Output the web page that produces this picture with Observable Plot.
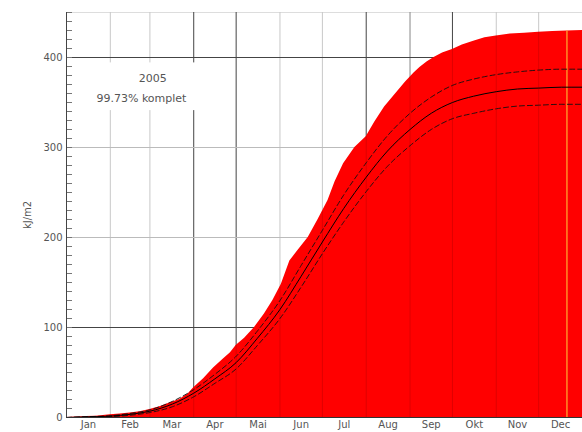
<!DOCTYPE html>
<html>
<head>
<meta charset="utf-8">
<script src="https://cdn.jsdelivr.net/npm/d3@7"></script>
<script src="https://cdn.jsdelivr.net/npm/@observablehq/plot@0.6"></script>
<style>
  html, body { margin: 0; padding: 0; background: white; }
  svg { display: block; }
</style>
</head>
<body>
<div id="chart"></div>
<script>
// ---- data ----
const monthNames = ["Jan","Feb","Mar","Apr","Mai","Jun","Jul","Aug","Sep","Okt","Nov","Dec"];
const monthStarts = [0,31,59,90,120,151,181,212,243,273,304,334,365];
const darkGridDays = [90,120,212,273];
const mediumGridDays = [243];
const lightGridDays = [31,59,151,181,304,334];
const darkGridY = [100,400];
const lightGridY = [200,300];
const yTickLabels = [0,100,200,300,400];
const yMinorTicks = d3.range(0, 451, 10);

// observed 2005 cumulative radiation (red area)
const obsDays = [0,7,14,21,31,38,45,52,59,66,73,80,86,90,97,104,111,116,120,126,133,140,146,152,158,164,171,178,185,190,196,204,212,218,225,233,240,246,250,255,260,266,273,280,288,296,304,314,324,334,344,354,365];
const obsVals = [0,0.5,1,1.5,3,4,5,6.5,9,12,16,20,26,33,43,55,65,72,80,88,100,115,130,148,174,186,200,220,241,262,282,300,312,328,345,360,373,383,389,395,400,405,409,414,418,422,424,426,427,428,429,429.5,430];

// long-term mean and +/- std band
const meanDays = [0,15,31,45,59,75,90,105,120,135,151,166,181,196,212,227,243,258,273,288,304,319,334,350,365];
const meanVals = [0,0.7,1.5,3.5,7,15,27,43,61,88,120,157,195,232,267,296,320,338,350,357,362,365,366,367,367];
const upperVals = [0,0.9,2,4.5,8.5,18,31,48,68,96,130,169,208,247,283,313,338,356,369,376,381,384,386,387,387];
const lowerVals = [0,0.5,1,2.5,5.5,12,23,38,54,80,110,145,182,217,251,279,302,320,332,338,343,346,347,348,348];

const currentDay = 354;
const labelBox = {x1: 13, x2: 93, y1: 341, y2: 394};
const annotations = [
  {x: 61, y: 377, text: "2005"},
  {x: 53, y: 354, text: "99.73% komplet"}
];

// ---- build tables ----
const obs = obsDays.map((d, i) => ({day: d, v: obsVals[i]}));
const band = meanDays.map((d, i) => ({day: d, mean: meanVals[i], upper: upperVals[i], lower: lowerVals[i]}));
const monthMids = monthNames.map((m, i) => (monthStarts[i] + monthStarts[i + 1]) / 2);
const obsAt = d3.scaleLinear().domain(obsDays).range(obsVals);
const overlay = monthStarts.slice(1, 12).map(d => ({day: d, top: obsAt(d)}));
const currentTop = obsAt(currentDay);

const chart = Plot.plot({
  width: 582,
  height: 432,
  marginLeft: 66,
  marginRight: 0,
  marginTop: 12,
  marginBottom: 15,
  style: {fontFamily: "DejaVu Sans, sans-serif", fontSize: "10px", color: "#555", background: "white"},
  x: {domain: [0, 365]},
  y: {domain: [0, 450]},
  marks: [
    Plot.ruleY([450], {stroke: "#ddd"}),
    Plot.ruleX(lightGridDays, {stroke: "#c8c8c8"}),
    Plot.ruleX(mediumGridDays, {stroke: "#888"}),
    Plot.ruleX(darkGridDays, {stroke: "#444"}),
    Plot.ruleY(lightGridY, {stroke: "#bbb"}),
    Plot.ruleY(darkGridY, {stroke: "#444"}),
    Plot.rect([labelBox], {x1: "x1", x2: "x2", y1: "y1", y2: "y2", fill: "white"}),
    Plot.areaY(obs, {x: "day", y: "v", fill: "#ff0000", curve: "linear"}),
    Plot.ruleX(overlay, {x: "day", y1: 0, y2: "top", stroke: "black", strokeOpacity: 0.13}),
    Plot.ruleX([currentDay], {y1: 0, y2: currentTop, stroke: "#ffb030", strokeWidth: 1.2}),
    Plot.line(band, {x: "day", y: "upper", stroke: "#111", strokeWidth: 0.9, strokeDasharray: "5,3", curve: "monotone-x"}),
    Plot.line(band, {x: "day", y: "lower", stroke: "#111", strokeWidth: 0.9, strokeDasharray: "5,3", curve: "monotone-x"}),
    Plot.line(band, {x: "day", y: "mean", stroke: "#000", strokeWidth: 1, curve: "monotone-x"}),
    Plot.text(annotations, {x: "x", y: "y", text: "text", fontSize: 11, fill: "#555", textAnchor: "middle"}),
    Plot.axisY({ticks: yMinorTicks, tickSize: -6, tickFormat: () => "", stroke: "#777", label: null}),
    Plot.axisY({ticks: yTickLabels, tickSize: 0, tickPadding: 4, fontSize: 10, label: null}),
    Plot.axisX({ticks: monthMids, tickSize: 0, tickPadding: 3, tickFormat: (d, i) => monthNames[i], fontSize: 10, label: null}),
    Plot.text(["kJ/m2"], {frameAnchor: "left", dx: -39, rotate: -90, fontSize: 10, fill: "#555", textAnchor: "middle"}),
    Plot.ruleX([0], {stroke: "#444"}),
    Plot.ruleY([0], {stroke: "#333"})
  ]
});
document.getElementById("chart").appendChild(chart);
</script>
</body>
</html>
